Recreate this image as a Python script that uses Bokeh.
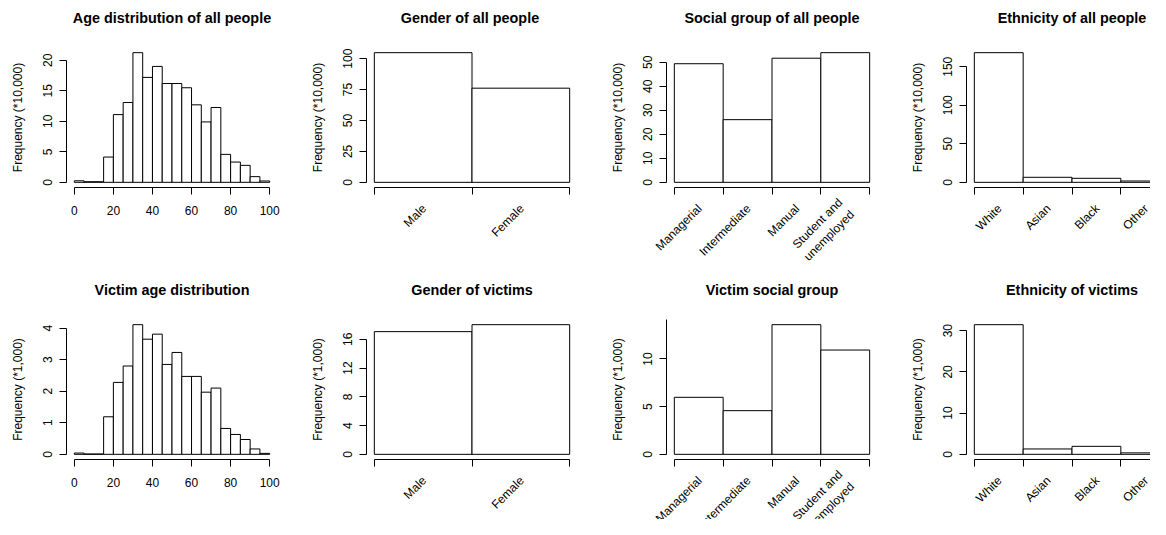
import math
from bokeh.plotting import figure
from bokeh.layouts import row, column
from bokeh.models import FixedTicker, Range1d, LinearAxis, ColumnDataSource
from bokeh.core.properties import value
from bokeh.embed import file_html
from bokeh.resources import INLINE

FONT = "Liberation Sans"

# ---------------- data ----------------
age_edges = list(range(0, 105, 5))
age_all = [0.25, 0.1, 0.1, 4.14, 11.1, 13.08, 21.25, 17.2, 19.0, 16.2,
           16.2, 15.5, 12.7, 9.9, 12.26, 4.58, 3.32, 2.78, 0.93, 0.22]
age_victims = [0.04, 0.01, 0.01, 1.19, 2.28, 2.80, 4.11, 3.65, 3.81, 2.85,
               3.23, 2.47, 2.47, 1.97, 2.10, 0.82, 0.63, 0.47, 0.17, 0.03]
age_ticks = [0, 20, 40, 60, 80, 100]

gender_labels = ["Male", "Female"]
gender_all = [104.8, 76.1]
gender_victims = [17.07, 18.04]

social_labels = ["Managerial", "Intermediate", "Manual", "Student and\nunemployed"]
social_all = [49.4, 26.1, 51.7, 54.0]
social_victims = [5.98, 4.58, 13.6, 10.94]

ethnic_labels = ["White", "Asian", "Black", "Other"]
ethnic_all = [168.2, 6.5, 5.2, 1.7]
ethnic_victims = [31.45, 1.3, 1.94, 0.35]

titles_top = ["Age distribution of all people", "Gender of  all people",
              "Social group of all people", "Ethnicity of all people"]
titles_bottom = ["Victim age distribution", "Gender of victims",
                 "Victim social group", "Ethnicity of victims"]
ylabel_top = "Frequency (*10,000)"
ylabel_bottom = "Frequency (*1,000)"

yticks_top = [[0, 5, 10, 15, 20], [0, 25, 50, 75, 100], [0, 10, 20, 30, 40, 50], [0, 50, 100, 150]]
yticks_bottom = [[0, 1, 2, 3, 4], [0, 4, 8, 12, 16], [0, 5, 10], [0, 10, 20, 30]]

# ---------------- layout (pixels) ----------------
col_w = [300, 300, 300, 250]
col_bl = [66, 66, 66, 66]
col_br = [23, 23, 23, 0]
FRAME_W = 211
FRAME_H = 140
row_bt = [47, 47]
row_bb = [85, 60]
TICK_B = 9         # border under a bar chart's frame, holding its tick marks
LABEL_DROP = 19    # where the rotated category labels end, below the frame


def style_axis(ax):
    ax.axis_line_color = "black"
    ax.axis_line_width = 1
    ax.major_tick_line_color = "black"
    ax.minor_tick_line_color = "black"
    ax.major_tick_in = 0
    ax.minor_tick_in = 0
    ax.minor_tick_out = 0
    ax.major_tick_out = 7
    ax.major_label_text_font = FONT
    ax.major_label_text_font_size = "12px"
    ax.major_label_text_color = "black"
    ax.axis_label_text_font = FONT
    ax.axis_label_text_font_size = "12px"
    ax.axis_label_text_font_style = "normal"
    ax.axis_label_text_color = "black"


def clean(p):
    p.outline_line_color = None
    for g in p.grid:
        g.visible = False
    p.background_fill_color = "white"
    p.border_fill_color = "white"


def make_panel(r, c, title, ylabel, yticks, values, labels=None, edges=None,
               ybound_top=None):
    vmax = max(values)
    y_range = Range1d(-0.04 * vmax, 1.04 * vmax)
    is_hist = edges is not None
    if is_hist:
        lo, hi = edges[0], edges[-1]
    else:
        lo, hi = 0, len(values)
    span = hi - lo
    x0 = lo - 0.04 * span
    frame_w = col_w[c] - col_bl[c] - col_br[c]
    x1 = x0 + 1.08 * span * frame_w / FRAME_W
    x_range = Range1d(x0, x1)

    bottom_border = row_bb[r] if is_hist else TICK_B
    p = figure(width=col_w[c], height=row_bt[r] + FRAME_H + bottom_border,
               x_range=x_range, y_range=y_range,
               output_backend="svg", toolbar_location=None, tools="",
               min_border_left=col_bl[c], min_border_right=col_br[c],
               min_border_top=row_bt[r], min_border_bottom=bottom_border)
    clean(p)

    # bars
    if is_hist:
        p.quad(left=edges[:-1], right=edges[1:], bottom=0, top=values,
               fill_color="white", line_color="black", line_width=1)
    else:
        n = len(values)
        p.vbar(x=[i + 0.5 for i in range(n)], width=1, bottom=0, top=values,
               fill_color="white", line_color="black", line_width=1)

    # y axis
    ya = p.left[0]
    style_axis(ya)
    ya.ticker = FixedTicker(ticks=yticks)
    ya.bounds = (0, ybound_top if ybound_top is not None else yticks[-1])
    ya.major_label_orientation = "vertical"
    ya.major_label_standoff = 7
    ya.axis_label = ylabel
    ya.axis_label_standoff = 16

    # title: centred over the whole plot region
    mid = (lo + hi) / 2
    tax = LinearAxis(ticker=FixedTicker(ticks=[mid]),
                     major_label_overrides={mid: title})
    tax.axis_line_color = None
    tax.major_tick_out = 0
    tax.major_tick_in = 0
    tax.minor_tick_out = 0
    tax.minor_tick_in = 0
    tax.major_label_standoff = 22
    tax.major_label_text_font = FONT
    tax.major_label_text_font_size = "14.4px"
    tax.major_label_text_font_style = "bold"
    tax.major_label_text_color = "black"
    p.add_layout(tax, "above")

    xa = p.below[0]
    style_axis(xa)
    if is_hist:
        xa.ticker = FixedTicker(ticks=age_ticks)
        xa.bounds = (age_ticks[0], age_ticks[-1])
        xa.major_label_standoff = 11
        return p

    # bar chart: tick marks at the bar edges; its labels go in the strip below
    n = len(values)
    xa.ticker = FixedTicker(ticks=list(range(n + 1)))
    xa.bounds = (0, n)
    xa.major_label_standoff = 0
    xa.major_label_text_font_size = "1px"
    xa.major_label_text_color = None

    # strip under the bar chart holding the rotated category labels
    ppu = frame_w / (x1 - x0)
    sx_range = Range1d(x0 - col_bl[c] / ppu, x1 + col_br[c] / ppu)
    strip_h = row_bb[r] - TICK_B
    s = figure(width=col_w[c], height=strip_h, x_range=sx_range,
               y_range=Range1d(-strip_h, 0),
               output_backend="svg", toolbar_location=None, tools="",
               x_axis_location=None, y_axis_location=None,
               min_border_left=0, min_border_right=0,
               min_border_top=0, min_border_bottom=0)
    s.frame_align = False
    clean(s)
    src = ColumnDataSource(dict(x=[i + 0.5 for i in range(n)],
                                y=[-(LABEL_DROP - TICK_B)] * n,
                                text=labels))
    s.text(x="x", y="y", text="text", source=src, angle=math.pi / 4,
           x_offset=1, text_align="right", text_baseline="middle",
           text_font=value(FONT), text_font_size="12px", text_color="black")
    return column(p, s, spacing=0)


top = [
    make_panel(0, 0, titles_top[0], ylabel_top, yticks_top[0], age_all, edges=age_edges),
    make_panel(0, 1, titles_top[1], ylabel_top, yticks_top[1], gender_all, labels=gender_labels),
    make_panel(0, 2, titles_top[2], ylabel_top, yticks_top[2], social_all, labels=social_labels),
    make_panel(0, 3, titles_top[3], ylabel_top, yticks_top[3], ethnic_all, labels=ethnic_labels),
]
bottom = [
    make_panel(1, 0, titles_bottom[0], ylabel_bottom, yticks_bottom[0], age_victims, edges=age_edges),
    make_panel(1, 1, titles_bottom[1], ylabel_bottom, yticks_bottom[1], gender_victims, labels=gender_labels),
    make_panel(1, 2, titles_bottom[2], ylabel_bottom, yticks_bottom[2], social_victims, labels=social_labels,
               ybound_top=1.04 * max(social_victims)),
    make_panel(1, 3, titles_bottom[3], ylabel_bottom, yticks_bottom[3], ethnic_victims, labels=ethnic_labels),
]

layout = column(row(*top, spacing=0), row(*bottom, spacing=0), spacing=0)

open("out.html", "w").write(file_html(layout, INLINE))
